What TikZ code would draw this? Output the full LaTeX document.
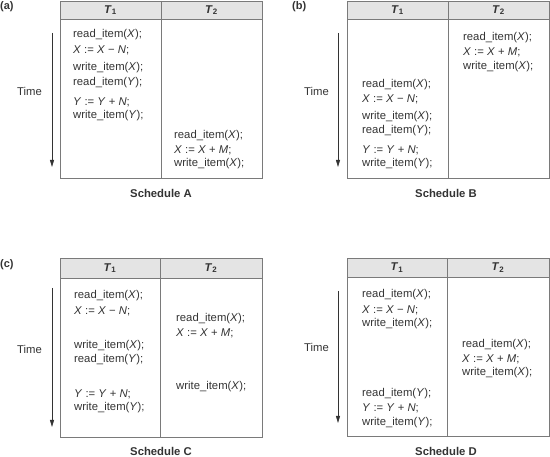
\documentclass[tikz,border=0pt]{standalone}
\usepackage{fontspec}
\setmainfont{Liberation Sans}
\usepackage{tikz}
\usepackage{xcolor}
\definecolor{rulegray}{HTML}{7A7A7A}
\definecolor{headgray}{HTML}{E4E4E4}
\definecolor{inkgray}{HTML}{333333}
\usetikzlibrary{arrows.meta}
\tikzset{
  tab/.style={draw=rulegray, line width=0.8pt},
  op/.style={anchor=west, inner sep=0pt, text=inkgray, font=\fontsize{11.3}{13}\selectfont},
  head/.style={inner sep=0pt, text=inkgray, font=\bfseries\fontsize{11.3}{13}\selectfont},
  capt/.style={inner sep=0pt, text=inkgray, font=\bfseries\fontsize{11.3}{13}\selectfont},
  tag/.style={anchor=west, inner sep=0pt, text=inkgray, font=\bfseries\fontsize{11}{13}\selectfont},
  timearrow/.style={draw=inkgray, line width=0.8pt, -{Triangle[length=7pt,width=4pt]}}
}
\newcommand{\vx}[1]{\textit{#1}}
\newcommand{\Tone}{\textit{T}\textsubscript{1}}
\newcommand{\Ttwo}{\textit{T}\textsubscript{2}}
\begin{document}
\begin{tikzpicture}[x=1pt,y=-1pt]
\useasboundingbox (0,0) rectangle (550,457);
%% (a)
\fill[headgray] (60,1) rectangle (262,19);
\draw[tab] (60,1) rectangle (262,178);
\draw[tab] (60,19)--(262,19) (161,1)--(161,178);
\node[tag] (tagA) at (0,7) {(a)};
\node[head] (hA1) at (110.5,10) {\Tone};
\node[head] (hA2) at (211.5,10) {\Ttwo};
\coordinate (tA0) at (52,33);
\coordinate (tA1) at (52,167);
\draw[timearrow] (tA0) -- (tA1);
\node[op] (timeA) at (17,91) {Time};
\node[op] (a1) at (73,35) {read\_item(\vx{X});};
\node[op] (a2) at (73,50) {\vx{X} := \vx{X} − \vx{N};};
\node[op] (a3) at (73,68) {write\_item(\vx{X});};
\node[op] (a4) at (73,83) {read\_item(\vx{Y});};
\node[op] (a5) at (73,102) {\vx{Y} := \vx{Y} + \vx{N};};
\node[op] (a6) at (73,116) {write\_item(\vx{Y});};
\node[op] (a7) at (174,136) {read\_item(\vx{X});};
\node[op] (a8) at (174,150) {\vx{X} := \vx{X} + \vx{M};};
\node[op] (a9) at (174,164) {write\_item(\vx{X});};
\node[capt] (capA) at (161,193) {Schedule A};
%% (b)
\fill[headgray] (347,1) rectangle (549,19);
\draw[tab] (347,1) rectangle (549,178);
\draw[tab] (347,19)--(549,19) (448,1)--(448,178);
\node[tag] (tagB) at (292,7) {(b)};
\node[head] (hB1) at (397.5,10) {\Tone};
\node[head] (hB2) at (498.5,10) {\Ttwo};
\coordinate (tB0) at (338,33);
\coordinate (tB1) at (338,167);
\draw[timearrow] (tB0) -- (tB1);
\node[op] (timeB) at (304,91) {Time};
\node[op] (b1) at (362,85) {read\_item(\vx{X});};
\node[op] (b2) at (362,99) {\vx{X} := \vx{X} − \vx{N};};
\node[op] (b3) at (362,117) {write\_item(\vx{X});};
\node[op] (b4) at (362,131) {read\_item(\vx{Y});};
\node[op] (b5) at (362,150) {\vx{Y} := \vx{Y} + \vx{N};};
\node[op] (b6) at (362,164) {write\_item(\vx{Y});};
\node[op] (b7) at (463,38) {read\_item(\vx{X});};
\node[op] (b8) at (463,52) {\vx{X} := \vx{X} + \vx{M};};
\node[op] (b9) at (463,67) {write\_item(\vx{X});};
\node[capt] (capB) at (446,193) {Schedule B};
%% (c)
\fill[headgray] (60,258) rectangle (262,278);
\draw[tab] (60,258) rectangle (262,437);
\draw[tab] (60,278)--(262,278) (160,258)--(160,437);
\node[tag] (tagC) at (0,265) {(c)};
\node[head] (hC1) at (110,268) {\Tone};
\node[head] (hC2) at (211,268) {\Ttwo};
\coordinate (tC0) at (52,288);
\coordinate (tC1) at (52,427);
\draw[timearrow] (tC0) -- (tC1);
\node[op] (timeC) at (17,349) {Time};
\node[op] (c1) at (74,296) {read\_item(\vx{X});};
\node[op] (c2) at (74,311) {\vx{X} := \vx{X} − \vx{N};};
\node[op] (c3) at (74,346) {write\_item(\vx{X});};
\node[op] (c4) at (74,360) {read\_item(\vx{Y});};
\node[op] (c5) at (74,394) {\vx{Y} := \vx{Y} + \vx{N};};
\node[op] (c6) at (74,408) {write\_item(\vx{Y});};
\node[op] (c7) at (176,319) {read\_item(\vx{X});};
\node[op] (c8) at (176,333) {\vx{X} := \vx{X} + \vx{M};};
\node[op] (c9) at (176,387) {write\_item(\vx{X});};
\node[capt] (capC) at (161,451) {Schedule C};
%% (d)
\fill[headgray] (347,258) rectangle (549,277);
\draw[tab] (347,258) rectangle (549,436);
\draw[tab] (347,277)--(549,277) (447,258)--(447,436);
\node[head] (hD1) at (397,267.5) {\Tone};
\node[head] (hD2) at (498,267.5) {\Ttwo};
\coordinate (tD0) at (338,291);
\coordinate (tD1) at (338,423);
\draw[timearrow] (tD0) -- (tD1);
\node[op] (timeD) at (304,347) {Time};
\node[op] (d1) at (362,295) {read\_item(\vx{X});};
\node[op] (d2) at (362,310) {\vx{X} := \vx{X} − \vx{N};};
\node[op] (d3) at (362,324) {write\_item(\vx{X});};
\node[op] (d4) at (362,394) {read\_item(\vx{Y});};
\node[op] (d5) at (362,408) {\vx{Y} := \vx{Y} + \vx{N};};
\node[op] (d6) at (362,423) {write\_item(\vx{Y});};
\node[op] (d7) at (462,345) {read\_item(\vx{X});};
\node[op] (d8) at (462,359) {\vx{X} := \vx{X} + \vx{M};};
\node[op] (d9) at (462,373) {write\_item(\vx{X});};
\node[capt] (capD) at (446,451) {Schedule D};
\end{tikzpicture}
\end{document}
